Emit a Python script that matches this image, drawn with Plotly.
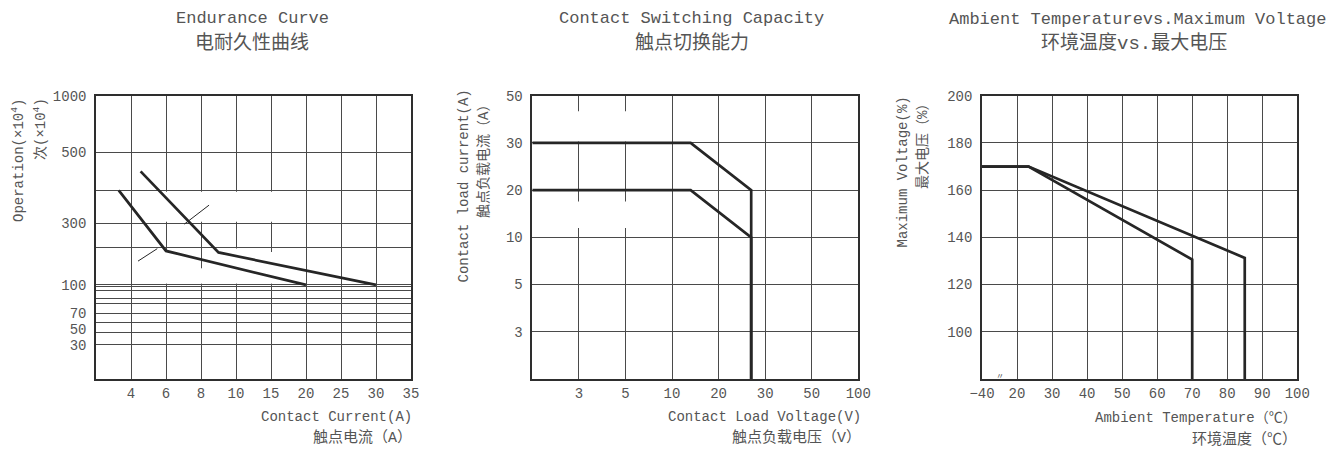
import numpy as np
import plotly.graph_objects as go

# ------------------------------------------------------------------
# DATA
# ------------------------------------------------------------------
# Panel 1 - Endurance curve: contact current (A) vs operations (x10^4)
end_x_tick_values = [2, 4, 6, 8, 10, 15, 20, 25, 30, 35]          # first one = unlabeled left edge
end_y_grid_values = [10, 30, 50, 60, 70, 80, 85, 90, 98, 100, 200, 300, 400, 500, 1000]
end_y_labeled = [30, 50, 70, 100, 300, 500, 1000]

end_low_current = [3.3, 6, 20]
end_low_ops = [400, 190, 100]
end_high_current = [4.55, 9, 30]
end_high_ops = [450, 186, 100]
leader_a_current = [4.4, 5.5]
leader_a_ops = [163, 196]
leader_b_current = [7.05, 8.46]
leader_b_ops = [296, 355]

# Panel 2 - Contact switching capacity: voltage (V) vs current (A)
cap_x_tick_values = [1, 3, 5, 10, 20, 30, 50, 100]                  # first one = unlabeled left edge
cap_y_tick_values = [1, 3, 5, 10, 20, 30, 50]                       # first one = unlabeled bottom
cap_high_voltage = [1, 14, 27, 27]
cap_high_current = [30, 30, 20, 1]
cap_low_voltage = [1, 14, 27, 27]
cap_low_current = [20, 20, 10, 1]

# Panel 3 - Ambient temperature vs maximum voltage
temp_x_tick_values = [-40, 20, 30, 40, 50, 60, 70, 80, 90, 100]
temp_x_tick_labels = ["\u221240", "20", "30", "40", "50", "60", "70", "80", "90", "100"]
volt_y_tick_values = [100, 120, 140, 160, 180, 200]
derate_a_temp = [-40, 23.3, 70, 70]
derate_a_volt = [170, 170, 130.6, 80]
derate_b_temp = [-40, 23.3, 85, 85]
derate_b_volt = [170, 170, 131.3, 80]

# ------------------------------------------------------------------
# AXIS SCALES (the printed, non-uniform scales -> axis units)
# ------------------------------------------------------------------
end_y_scale_pos = [0, 34, 46.7, 56, 65.4, 75.4, 80.7, 88, 92.7, 94, 131.7, 155.7, 188.4, 226.4, 283]
end_y_label_nudge = {50: 2.7}


def idx_scale(vals):
    return list(range(len(vals)))


def to_axis(values, scale_vals, scale_pos):
    return np.interp(values, scale_vals, scale_pos)


def ex(v):
    return to_axis(v, end_x_tick_values, idx_scale(end_x_tick_values))


def ey(v):
    return to_axis(v, end_y_grid_values, end_y_scale_pos)


def cx(v):
    return to_axis(v, cap_x_tick_values, idx_scale(cap_x_tick_values))


def cy(v):
    return to_axis(v, cap_y_tick_values, idx_scale(cap_y_tick_values))


def tx(v):
    return to_axis(v, temp_x_tick_values, idx_scale(temp_x_tick_values))


# ------------------------------------------------------------------
# STYLE / PAGE GEOMETRY
# ------------------------------------------------------------------
W, H = 1335, 450
FONT = "Liberation Mono, Noto Sans CJK SC, monospace"
TXT = "#555555"
GRID = "#4a4a4a"
BORDER = "#2e2e2e"
CURVE = "#262626"


def px_x(p):
    return p / W


def px_y(p):
    return 1 - p / H


fig = go.Figure()


def curve(x, y, xa, ya, width=2.7):
    fig.add_trace(go.Scatter(x=x, y=y, mode="lines", xaxis=xa, yaxis=ya,
                             line=dict(color=CURVE, width=width),
                             hoverinfo="skip", showlegend=False))


# panel 1
curve(ex(end_low_current), ey(end_low_ops), "x", "y")
curve(ex(end_high_current), ey(end_high_ops), "x", "y")
curve(ex(leader_a_current), ey(leader_a_ops), "x", "y", width=1)
curve(ex(leader_b_current), ey(leader_b_ops), "x", "y", width=1)
# panel 2
curve(cx(cap_high_voltage), cy(cap_high_current), "x2", "y2")
curve(cx(cap_low_voltage), cy(cap_low_current), "x2", "y2")
# panel 3
curve(tx(derate_a_temp), derate_a_volt, "x3", "y3")
curve(tx(derate_b_temp), derate_b_volt, "x3", "y3")
# carrier for the grid-only companion axis of panel 1
fig.add_trace(go.Scatter(x=[None], y=[None], xaxis="x", yaxis="y4",
                         showlegend=False, hoverinfo="skip"))

tickfont = dict(family=FONT, size=14, color=TXT)
ydom = [px_y(379), px_y(95.7)]


def xax(dom, rng, tv, tt, anchor):
    return dict(domain=dom, range=rng, tickvals=tv, ticktext=tt, anchor=anchor,
                showgrid=True, gridcolor=GRID, gridwidth=1,
                showline=True, mirror=True, linecolor=BORDER, linewidth=1.5,
                zeroline=False, ticks="", tickfont=tickfont, automargin=False,
                ticklabelstandoff=0, fixedrange=True)


def yax(anchor, rng, tv, tt, grid=True):
    return dict(domain=ydom, range=rng, tickvals=tv, ticktext=tt, anchor=anchor,
                showgrid=grid, gridcolor=GRID, gridwidth=1,
                showline=True, mirror=True, linecolor=BORDER, linewidth=1.5,
                zeroline=False, ticks="", tickfont=tickfont, automargin=False,
                ticklabelstandoff=5, fixedrange=True)


end_label_pos = [float(ey(v)) + end_y_label_nudge.get(v, 0) for v in end_y_labeled]

fig.update_layout(
    width=W, height=H, margin=dict(l=0, r=0, t=0, b=0), autosize=False,
    paper_bgcolor="white", plot_bgcolor="white",
    xaxis=xax([px_x(96), px_x(411)], [0, 9],
              list(range(1, len(end_x_tick_values))),
              [str(v) for v in end_x_tick_values[1:]], "y"),
    yaxis=yax("x", [0, 283], end_label_pos, [str(v) for v in end_y_labeled],
              grid=False),
    # grid-only companion axis carrying every printed grid line of panel 1
    yaxis4=dict(domain=ydom, range=[0, 283], overlaying="y", anchor="x",
                tickvals=list(ey(end_y_grid_values)), showticklabels=False,
                showgrid=True, gridcolor=GRID, gridwidth=1, showline=False,
                zeroline=False, ticks="", automargin=False, fixedrange=True),
    xaxis2=xax([px_x(532.3), px_x(858.3)], [0, 7],
               list(range(1, len(cap_x_tick_values))),
               [str(v) for v in cap_x_tick_values[1:]], "y2"),
    yaxis2=yax("x2", [0, 6], list(range(1, len(cap_y_tick_values))),
               [str(v) for v in cap_y_tick_values[1:]]),
    xaxis3=xax([px_x(982), px_x(1297.3)], [0, 9],
               list(range(len(temp_x_tick_values))), temp_x_tick_labels, "y3"),
    yaxis3=yax("x3", [80, 200], volt_y_tick_values,
               [str(v) for v in volt_y_tick_values]),
)

# ------------------------------------------------------------------
# white gaps in the printed grid (as on the original sheet)
# ------------------------------------------------------------------
shapes = []
GAP_HALF = 0.07


def gap(xref, yref, xpos, y0, y1):
    shapes.append(dict(type="rect", xref=xref, yref=yref, layer="between",
                       x0=xpos - GAP_HALF, x1=xpos + GAP_HALF, y0=y0, y1=y1,
                       fillcolor="white", line=dict(width=0)))


for cur in [6, 8, 10, 15]:
    gap("x", "y", ex(cur), ey(300) + 1.3, ey(400) - 1.3)
for cur, top in [(6, 187), (8, 144), (10, 200), (15, 187)]:
    gap("x", "y", ex(cur), ey(100) + 1.3, ey(top) - (1.3 if top == 200 else 0))
for volt in [3, 5]:
    gap("x2", "y2", cx(volt), cy(30) + 0.03, cy(43.4))
    gap("x2", "y2", cx(volt), cy(12), cy(17.6))
fig.update_layout(shapes=shapes)

# ------------------------------------------------------------------
# text
# ------------------------------------------------------------------
ann = []


def text(s, x, y, size, xanchor="center", yanchor="middle", angle=0):
    ann.append(dict(text=s, x=px_x(x), y=px_y(y), xref="paper", yref="paper",
                    showarrow=False, xanchor=xanchor, yanchor=yanchor,
                    textangle=angle, font=dict(family=FONT, size=size, color=TXT)))


# titles
text("Endurance Curve", 252, 18, 17)
text("电耐久性曲线", 252, 43, 19)
text("Contact Switching Capacity", 692, 18, 17)
text("触点切换能力", 692, 43, 19)
text("Ambient Temperaturevs.Maximum Voltage", 1137, 20, 17)
text("环境温度vs.最大电压", 1134, 44, 19)

# x titles
text("Contact Current(A)", 414, 417, 14, xanchor="right")
text("触点电流（A）", 414, 438, 15, xanchor="right")
text("Contact Load Voltage(V)", 863, 417, 14, xanchor="right")
text("触点负载电压（V）", 863, 438, 15, xanchor="right")
text("Ambient Temperature（℃）", 1299, 418, 14, xanchor="right")
text("环境温度（℃）", 1299, 439, 15, xanchor="right")

# y titles
text("Operation(×10<sup>4</sup>)", 18, 96, 14, yanchor="top", angle=-90)
text("次(×10<sup>4</sup>)", 40, 96, 14, yanchor="top", angle=-90)
text("Contact load current(A)", 463, 88, 14, yanchor="top", angle=-90)
text("触点负载电流（A）", 484, 96, 14, yanchor="top", angle=-90)
text("Maximum Voltage(%)", 902, 95, 14, yanchor="top", angle=-90)
text("最大电压（%）", 923, 95, 14, yanchor="top", angle=-90)

# axis break mark on the temperature axis
ann.append(dict(text="〃", x=0.5, y=80, xref="x3", yref="y3", showarrow=False,
                yshift=3, font=dict(family=FONT, size=8, color=TXT)))

fig.update_layout(annotations=ann)

fig.write_html("out.html", config={"displayModeBar": False},
               post_script="document.body.style.margin='0px';")
